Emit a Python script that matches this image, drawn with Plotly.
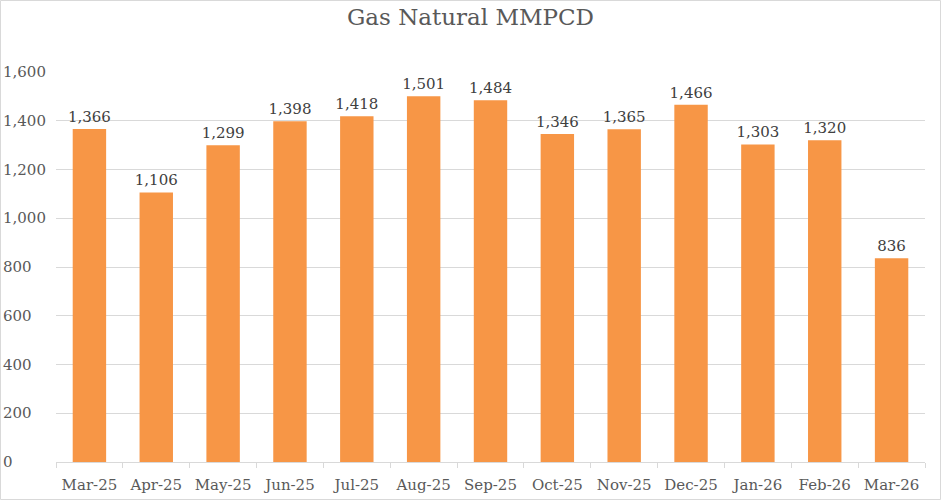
import plotly.graph_objects as go

categories = ["Mar-25", "Apr-25", "May-25", "Jun-25", "Jul-25", "Aug-25", "Sep-25",
              "Oct-25", "Nov-25", "Dec-25", "Jan-26", "Feb-26", "Mar-26"]
values = [1366, 1106, 1299, 1398, 1418, 1501, 1484, 1346, 1365, 1466, 1303, 1320, 836]
y_ticks = [0, 200, 400, 600, 800, 1000, 1200, 1400, 1600]
title_text = "Gas Natural MMPCD"

W, H = 941, 500
ML, MR, MT, MB = 56, 16, 72, 38
PW = W - ML - MR
PH = H - MT - MB
FONT = "DejaVu Serif"

fig = go.Figure(go.Bar(
    x=categories, y=values,
    marker=dict(color="#F79646", line=dict(width=0)),
    width=0.5,
    text=[f"{v:,}" for v in values],
    textposition="outside",
    constraintext="none",
    textfont=dict(family=FONT, size=15, color="#404040"),
    cliponaxis=False,
))

annotations = []
for t in y_ticks:
    annotations.append(dict(
        x=-ML / PW + 1 / PW, y=t, xref="paper", yref="y",
        text=f"{t:,}", showarrow=False, xanchor="left", yanchor="middle",
        font=dict(family=FONT, size=15, color="#595959"),
    ))

fig.update_layout(
    width=W, height=H,
    margin=dict(l=ML, r=MR, t=MT, b=MB, autoexpand=False),
    paper_bgcolor="white", plot_bgcolor="white",
    title=dict(text=title_text, x=0.5, xref="container", xanchor="center",
               y=1 - 17 / H, yref="container", yanchor="middle",
               font=dict(family=FONT, size=23, color="#595959")),
    showlegend=False,
    annotations=annotations,
    xaxis=dict(
        type="category", automargin=False,
        showline=True, linecolor="#d9d9d9", linewidth=1,
        ticks="outside", tickson="boundaries", ticklen=5, tickcolor="#d9d9d9",
        ticklabelstandoff=9,
        tickfont=dict(family=FONT, size=15, color="#595959"),
        showgrid=False,
    ),
    yaxis=dict(
        range=[0, 1600], tickvals=y_ticks, showticklabels=False, automargin=False,
        showgrid=True, gridcolor="#d9d9d9", gridwidth=1,
        zeroline=False, showline=False,
    ),
    shapes=[dict(type="rect", xref="paper", yref="paper",
                 x0=(-ML + 0.5) / PW, x1=1 + (MR - 0.5) / PW,
                 y0=(-MB + 0.5) / PH, y1=1 + (MT - 0.5) / PH,
                 line=dict(color="#d9d9d9", width=1), layer="below")],
)

fig.write_html("out.html", config={"displayModeBar": False},
               post_script="document.body.style.margin='0';")
